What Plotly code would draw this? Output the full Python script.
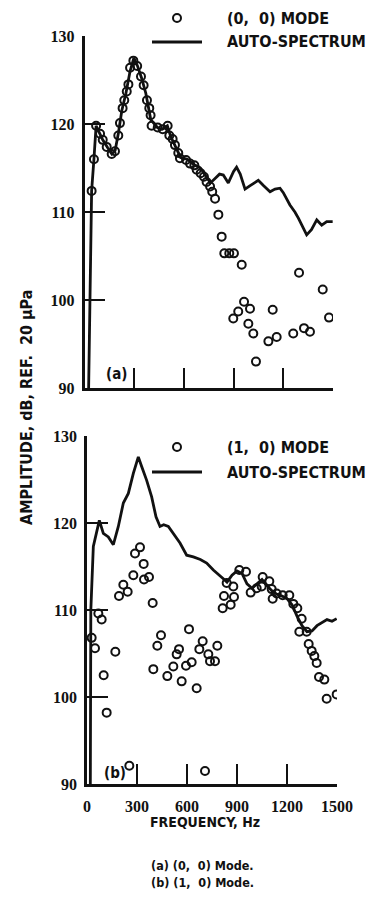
import plotly.graph_objects as go

W, H = 372, 911

# ---------------- data: panel (a) (0, 0) mode ----------------
freq_a_mode = [43, 57, 70, 94, 110, 134, 164, 184, 204, 214, 230, 240, 255, 265, 275, 295, 318,
               341, 357, 377, 391, 399, 405, 442, 472, 502, 512, 532, 546, 566, 576, 613, 637,
               663, 677, 701, 721, 737, 758, 771, 788, 808, 828, 844, 874, 898, 902, 928, 949,
               963, 989, 999, 1019, 1035, 1110, 1136, 1160, 1260, 1295, 1325, 1361, 1438, 1476]
amp_a_mode = [112.4, 116.0, 119.8, 118.9, 118.2, 117.4, 116.6, 116.9, 118.7, 120.1, 121.8, 122.7,
              123.7, 124.5, 126.4, 127.2, 126.6, 125.4, 124.4, 122.7, 121.8, 121.0, 119.8, 119.6,
              119.4, 119.8, 118.7, 118.3, 117.6, 116.7, 116.1, 115.9, 115.5, 115.3, 114.8, 114.4,
              114.0, 113.4, 112.9, 112.3, 111.5, 109.7, 107.2, 105.3, 105.3, 97.9, 105.3, 98.7,
              104.0, 99.8, 97.3, 99.0, 96.2, 93.0, 95.3, 98.9, 95.8, 96.2, 103.1, 96.8, 96.4,
              101.2, 98.0]

freq_a_auto = [25, 35, 43, 57, 70, 90, 110, 140, 165, 185, 205, 225, 250, 275, 298, 320, 345, 370,
               400, 440, 470, 500, 520, 550, 580, 620, 660, 700, 730, 760, 788, 815, 838, 868, 900,
               918, 940, 969, 1000, 1049, 1080, 1120, 1150, 1180, 1200, 1240, 1270, 1291, 1341,
               1370, 1402, 1432, 1462, 1498]
amp_a_auto = [90, 105, 112.4, 116.0, 119.8, 119.0, 118.2, 117.3, 116.6, 117.0, 119.0, 121.5, 123.5,
              126.0, 127.5, 126.6, 125.2, 123.5, 120.5, 119.6, 119.4, 119.8, 118.6, 117.4, 116.2,
              116.0, 115.4, 115.0, 114.2, 113.3, 113.8, 114.3, 114.2, 113.3, 114.6, 115.1, 114.3,
              112.6, 113.0, 113.6, 113.0, 112.3, 112.6, 112.7, 112.2, 110.8, 110.0, 109.3, 107.4,
              108.0, 109.1, 108.5, 108.9, 108.9]

# ---------------- data: panel (b) (1, 0) mode ----------------
freq_b_mode = [28, 48, 68, 88, 100, 118, 170, 192, 218, 244, 254, 278, 288, 318, 340, 342, 372, 394,
               398, 422, 444, 482, 518, 538, 552, 568, 594, 612, 628, 658, 674, 694, 708, 728, 738,
               768, 782, 814, 822, 838, 862, 878, 882, 914, 954, 982, 1018, 1048, 1054, 1094, 1108,
               1114, 1138, 1174, 1214, 1238, 1262, 1274, 1288, 1318, 1330, 1348, 1364, 1378, 1392,
               1424, 1438, 1498]
amp_b_mode = [106.8, 105.6, 109.6, 108.9, 102.5, 98.2, 105.2, 111.6, 112.9, 112.1, 92.1, 114.0,
              116.5, 117.2, 115.3, 113.5, 113.8, 110.8, 103.2, 105.9, 107.1, 102.4, 103.5, 104.9,
              105.5, 101.8, 103.6, 107.8, 104.0, 101.0, 105.5, 106.4, 91.5, 104.9, 104.1, 104.1,
              105.9, 110.2, 111.6, 113.1, 110.6, 112.7, 111.5, 114.6, 114.4, 112.0, 112.5, 112.7,
              113.8, 113.3, 112.4, 111.3, 111.9, 111.7, 111.7, 110.7, 110.2, 107.5, 109.0, 107.5,
              106.1, 105.3, 104.7, 103.9, 102.3, 102.0, 99.8, 100.3]

freq_b_auto = [20, 23, 38, 58, 74, 98, 128, 158, 188, 218, 248, 278, 308, 328, 358, 388, 414, 438,
               460, 488, 518, 558, 598, 638, 680, 718, 758, 798, 818, 840, 870, 900, 930, 960, 990,
               1020, 1050, 1080, 1110, 1140, 1170, 1200, 1230, 1260, 1290, 1320, 1350, 1380, 1410,
               1440, 1470, 1498]
amp_b_auto = [90, 110, 117.3, 119.2, 120.3, 118.8, 118.4, 117.5, 119.6, 122.3, 123.4, 125.7, 127.6,
              126.5, 124.9, 123.0, 120.7, 119.6, 119.8, 119.6, 118.8, 117.7, 116.3, 116.1, 115.8,
              115.4, 114.6, 114.0, 113.6, 113.2, 114.0, 114.5, 114.2, 113.0, 112.5, 113.0, 113.5,
              112.8, 112.2, 111.8, 111.6, 111.3, 110.6, 109.3, 108.2, 107.5, 107.6, 108.2, 108.6,
              108.9, 108.7, 109.0]

x_ticks = [0, 300, 600, 900, 1200, 1500]
x_tick_text = ["0", "300", "600", "900", "1200", "1500"]
y_ticks = [90, 100, 110, 120, 130]
y_tick_text = ["90", "100", "110", "120", "130"]

legend_a = ["(0,  0) MODE", "AUTO-SPECTRUM"]
legend_b = ["(1,  0) MODE", "AUTO-SPECTRUM"]
y_title = "AMPLITUDE, dB, REF.  20 \u03bcPa"
x_title = "FREQUENCY, Hz"
captions = ["(a) (0,  0) Mode.", "(b) (1,  0) Mode."]

# ---------------- styling ----------------
INK = "#111111"
SANS = "Liberation Sans Narrow, DejaVu Sans Condensed, Roboto Condensed, Arial Narrow, sans-serif"
SERIF = "Liberation Serif, DejaVu Serif, serif"

def px(x):
    return x / W

def py(y):
    return 1 - y / H

fig = go.Figure()

marker_style = dict(symbol="circle-open", size=8, color=INK, line=dict(width=2, color=INK))
line_style = dict(color=INK, width=2.8)

fig.add_trace(go.Scatter(x=freq_a_auto, y=amp_a_auto, mode="lines", line=line_style,
                         xaxis="x", yaxis="y", showlegend=False))
fig.add_trace(go.Scatter(x=freq_a_mode, y=amp_a_mode, mode="markers", marker=marker_style,
                         xaxis="x", yaxis="y", showlegend=False))
fig.add_trace(go.Scatter(x=freq_b_auto, y=amp_b_auto, mode="lines", line=line_style,
                         xaxis="x2", yaxis="y2", showlegend=False))
fig.add_trace(go.Scatter(x=freq_b_mode, y=amp_b_mode, mode="markers", marker=marker_style,
                         xaxis="x2", yaxis="y2", showlegend=False))

tickfont = dict(family=SERIF, size=16, color=INK, weight="bold")

def xaxis(domain, anchor, labels):
    return dict(domain=domain, anchor=anchor, range=[0, 1500], tickvals=x_ticks,
                ticktext=x_tick_text, showticklabels=labels, ticks="inside", ticklen=20,
                tickwidth=2, tickcolor=INK, showline=True, linewidth=2.5, linecolor=INK,
                showgrid=False, zeroline=False, tickfont=tickfont, fixedrange=True,
                ticklabelstandoff=6, automargin=False)

def yaxis(domain, anchor):
    return dict(domain=domain, anchor=anchor, range=[90, 130], tickvals=y_ticks,
                ticktext=y_tick_text, ticks="inside", ticklen=21, tickwidth=1.5, tickcolor=INK,
                showline=True, linewidth=2.5, linecolor=INK, showgrid=False, zeroline=False,
                tickfont=tickfont, fixedrange=True, ticklabelstandoff=4, automargin=False)

fig.update_layout(
    width=W, height=H, margin=dict(l=0, r=0, t=0, b=0),
    paper_bgcolor="white", plot_bgcolor="white",
    xaxis=xaxis([px(84.5), px(333)], "y", False),
    yaxis=yaxis([py(388), py(36)], "x"),
    xaxis2=xaxis([px(87), px(337)], "y2", True),
    yaxis2=yaxis([py(784), py(436)], "x2"),
    showlegend=False,
)

annotations = []
shapes = []
tfont = dict(family=SANS, size=16, color=INK, weight="bold")

def note(text, x, y, font, xanchor="center", angle=0):
    annotations.append(dict(text=text, x=px(x), y=py(y), xref="paper", yref="paper",
                            xanchor=xanchor, yanchor="middle", showarrow=False, font=font,
                            textangle=angle, borderpad=0))

def legend_block(y_mark, y_line, texts):
    shapes.append(dict(type="circle", xref="paper", yref="paper",
                       x0=px(173), x1=px(181), y0=py(y_mark + 4), y1=py(y_mark - 4),
                       line=dict(color=INK, width=2)))
    shapes.append(dict(type="line", xref="paper", yref="paper",
                       x0=px(152), x1=px(202), y0=py(y_line), y1=py(y_line),
                       line=dict(color=INK, width=2.8)))
    note(texts[0], 226, y_mark, tfont, xanchor="left")
    note(texts[1], 226, y_line, tfont, xanchor="left")

legend_block(18, 42, legend_a)
legend_block(447, 472, legend_b)

note("(a)", 116, 374, dict(family=SANS, size=15, color=INK, weight="bold"))
note("(b)", 115, 773, dict(family=SANS, size=15, color=INK, weight="bold"))
note(y_title, 27, 408, dict(family=SANS, size=16, color=INK, weight="bold"), angle=-90)
note(x_title, 205, 822, dict(family=SANS, size=14, color=INK, weight="bold"))
note(captions[0], 203, 865, dict(family=SANS, size=12.5, color=INK, weight="bold"))
note(captions[1], 202, 882, dict(family=SANS, size=12.5, color=INK, weight="bold"))

fig.update_layout(annotations=annotations, shapes=shapes)

fig.write_html("out.html")
